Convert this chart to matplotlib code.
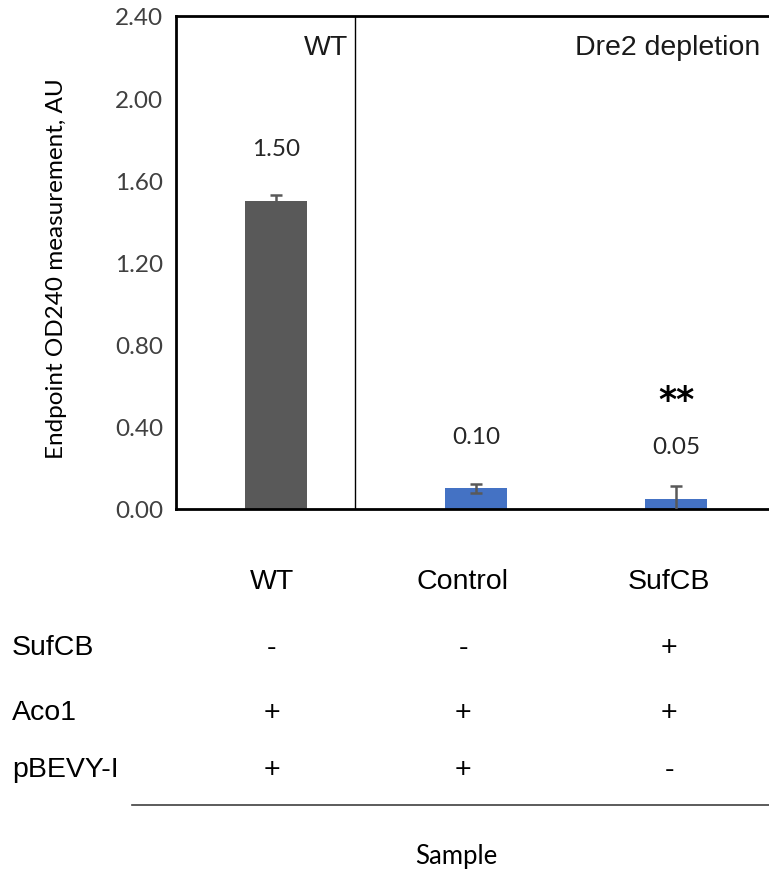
import matplotlib
matplotlib.use("Agg")
import matplotlib.pyplot as plt
from matplotlib.ticker import FormatStrFormatter, MultipleLocator
import matplotlib.transforms as mtransforms

# Samples and measurements
samples = ["WT", "Control", "SufCB"]
values = [1.50, 0.10, 0.05]
errors = [0.03, 0.02, 0.06]
value_labels = ["1.50", "0.10", "0.05"]
significance = ["", "", "**"]
bar_colors = ["#595959", "#4472C4", "#4472C4"]

# Construct table rows
row_names = ["SufCB", "Aco1", "pBEVY-I"]
row_marks = [
    ["-", "-", "+"],
    ["+", "+", "+"],
    ["+", "+", "-"],
]

calibri_like = "Lato"
arial_like = "Liberation Sans"
small = 17.5
large = 20.5

fig = plt.figure(figsize=(7.69, 8.70), dpi=100)
ax = fig.add_axes([176 / 769, 1 - 510 / 870, 600 / 769, (510 - 17) / 870])

x = list(range(len(samples)))
ax.bar(x, values, width=0.31, color=bar_colors, zorder=2)
ax.errorbar(x, values, yerr=errors, fmt="none", ecolor="#595959",
            elinewidth=1.8, capsize=4.5, capthick=1.8, zorder=3)

for xi, v, lab in zip(x, values, value_labels):
    ax.text(xi, v + 0.255, lab, ha="center", va="center",
            fontsize=small, family=calibri_like, color="#262626")
for xi, v, s in zip(x, values, significance):
    if s:
        ax.text(xi, v + 0.48, s, ha="center", va="center",
                fontsize=25, fontweight="bold", family="DejaVu Sans")

ax.set_xlim(-0.5, 2.5)
ax.set_ylim(0, 2.4)
ax.yaxis.set_major_locator(MultipleLocator(0.4))
ax.yaxis.set_major_formatter(FormatStrFormatter("%.2f"))
ax.tick_params(axis="y", length=0, pad=9, labelsize=small, labelcolor="#404040")
for t in ax.get_yticklabels():
    t.set_family(calibri_like)
ax.set_xticks([])

for side in ["left", "top", "bottom"]:
    ax.spines[side].set_linewidth(2)
    ax.spines[side].set_color("black")
ax.spines["right"].set_visible(False)

# Divider between the wild type and the depletion group
ax.axvline(0.395, color="black", linewidth=1, zorder=1)
ax.text(0.36, 2.25, "WT", ha="right", va="center", fontsize=large,
        family=arial_like, color="#1a1a1a")
ax.text(2.42, 2.25, "Dre2 depletion", ha="right", va="center",
        fontsize=large, family=arial_like, color="#1a1a1a")

ax.set_ylabel("Endpoint OD240 measurement, AU", family=calibri_like,
              fontsize=small)
ax.yaxis.set_label_coords((67 - 176) / 600, 0.489)

# Sample table below the axes
trans = mtransforms.blended_transform_factory(ax.transData, fig.transFigure)
col_x = [-0.02, 0.935, 1.965]
for cx, name in zip(col_x, samples):
    ax.text(cx, 1 - 582 / 870, name, transform=trans, ha="center",
            va="center", fontsize=large, family=arial_like, clip_on=False)

row_y = [648, 713, 770]
for ry, rname, marks in zip(row_y, row_names, row_marks):
    fig.text(12 / 769, 1 - ry / 870, rname, ha="left", va="center",
             fontsize=large, family=arial_like)
    for cx, m in zip(col_x, marks):
        ax.text(cx, 1 - ry / 870, m, transform=trans, ha="center",
                va="center", fontsize=large, family=arial_like, clip_on=False)

fig.add_artist(plt.Line2D([132 / 769, 1.0], [1 - 806 / 870] * 2,
                          color="#404040", linewidth=1.2))
fig.text(456 / 769, 1 - 857 / 870, "Sample", ha="center", va="center",
         fontsize=18.5, family=calibri_like)

fig.savefig("out.png", dpi=100)
